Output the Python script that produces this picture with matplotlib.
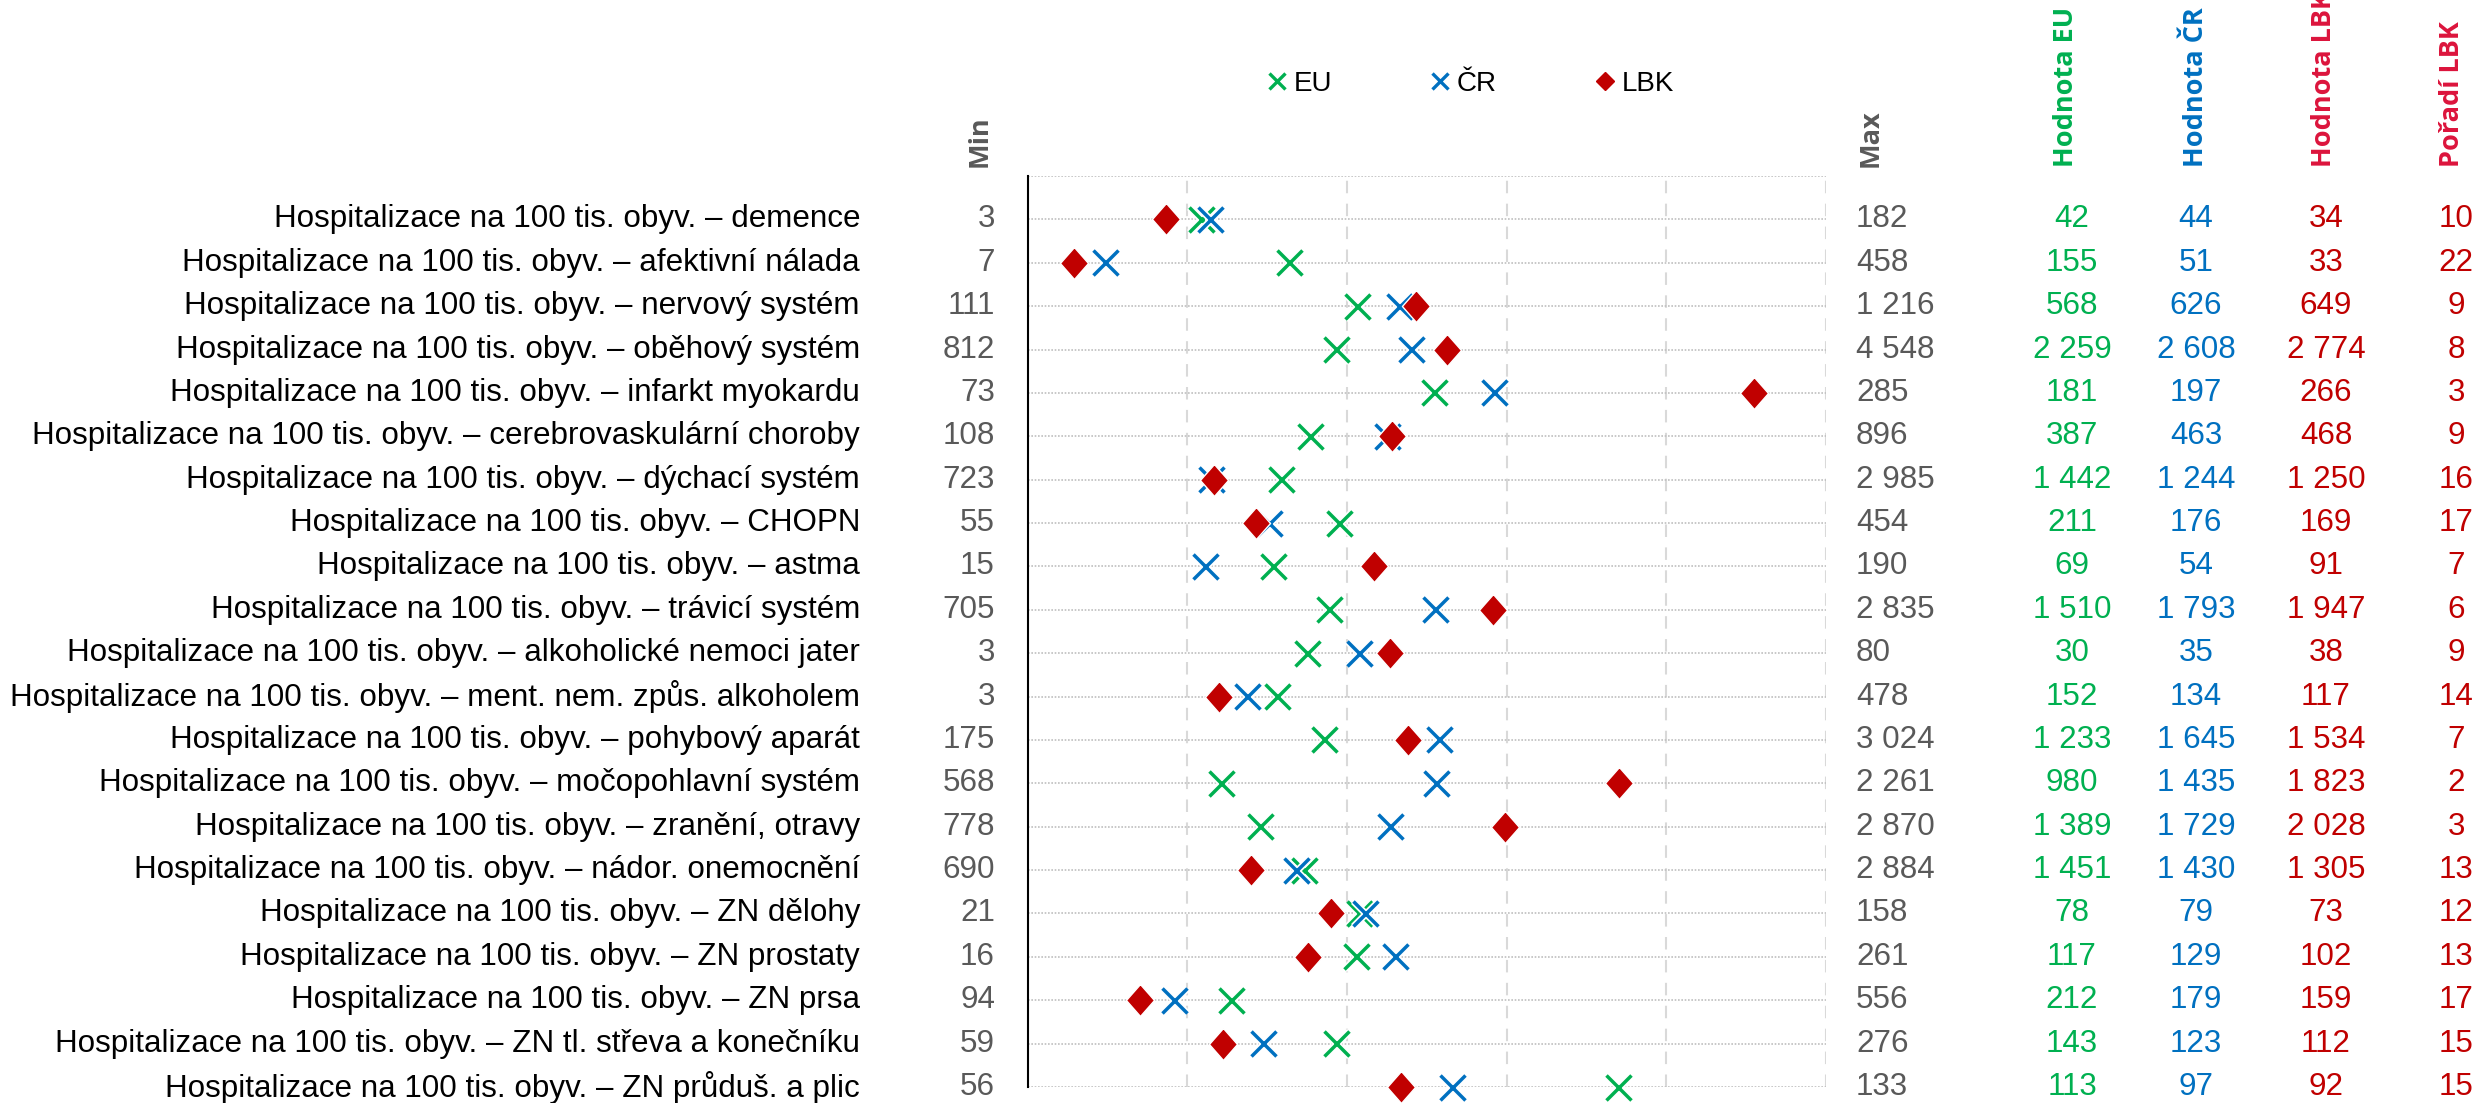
import matplotlib.pyplot as plt
from matplotlib.lines import Line2D
from matplotlib.transforms import blended_transform_factory
import matplotlib.patheffects as pe

plt.rcParams['font.family'] = ['Liberation Sans Narrow', 'Liberation Sans', 'DejaVu Sans']

labels = [
    "demence", "afektivní nálada", "nervový systém", "oběhový systém",
    "infarkt myokardu", "cerebrovaskulární choroby", "dýchací systém", "CHOPN",
    "astma", "trávicí systém", "alkoholické nemoci jater",
    "ment. nem. způs. alkoholem", "pohybový aparát", "močopohlavní systém",
    "zranění, otravy", "nádor. onemocnění", "ZN dělohy", "ZN prostaty",
    "ZN prsa", "ZN tl. střeva a konečníku", "ZN průduš. a plic",
]
prefix = "Hospitalizace na 100 tis. obyv. – "
mins = [3, 7, 111, 812, 73, 108, 723, 55, 15, 705, 3, 3, 175, 568, 778, 690, 21, 16, 94, 59, 56]
maxs = [182, 458, 1216, 4548, 285, 896, 2985, 454, 190, 2835, 80, 478, 3024, 2261, 2870, 2884, 158, 261, 556, 276, 133]
eu = [42, 155, 568, 2259, 181, 387, 1442, 211, 69, 1510, 30, 152, 1233, 980, 1389, 1451, 78, 117, 212, 143, 113]
cr = [44, 51, 626, 2608, 197, 463, 1244, 176, 54, 1793, 35, 134, 1645, 1435, 1729, 1430, 79, 129, 179, 123, 97]
lbk = [34, 33, 649, 2774, 266, 468, 1250, 169, 91, 1947, 38, 117, 1534, 1823, 2028, 1305, 73, 102, 159, 112, 92]
rank = [10, 22, 9, 8, 3, 9, 16, 17, 7, 6, 9, 14, 7, 2, 3, 13, 12, 13, 17, 15, 15]

GREEN = "#00B050"
BLUE = "#0070C0"
RED = "#C00000"
HEAD_RED = "#DC143C"
GRAY = "#595959"

W, H = 2476, 1103
fig = plt.figure(figsize=(W / 100, H / 100), dpi=100)
ax = fig.add_axes([1027.5 / W, 1 - 1087 / H, (1826 - 1027.5) / W, (1087 - 176) / H])

n = len(labels)
rows = list(range(1, n + 1))


def norm(vals):
    return [(v - a) / (b - a) for v, a, b in zip(vals, mins, maxs)]


def fmt(v):
    return f"{v:,}".replace(",", " ")


diamond = [(0, 1), (0.88, 0), (0, -1), (-0.88, 0), (0, 1)]
outline = [pe.Stroke(linewidth=5, foreground="white"), pe.Normal()]
ax.plot(norm(eu), rows, ls="none", marker="x", ms=18, mew=2.5, color=GREEN,
        path_effects=outline, zorder=3, clip_on=False)
ax.plot(norm(cr), rows, ls="none", marker="x", ms=18, mew=2.5, color=BLUE,
        path_effects=outline, zorder=4, clip_on=False)
ax.plot(norm(lbk), rows, ls="none", marker=diamond, ms=23, mew=1, color=RED,
        markeredgecolor="white", zorder=5, clip_on=False)

ax.set_xlim(0, 1)
ax.set_ylim(n, 0)
for x in [0.2, 0.4, 0.6, 0.8, 1.0]:
    ax.axvline(x, color="#D9D9D9", lw=1.5, ls=(0, (6, 5)), zorder=1)
for y in range(0, n + 1):
    ax.axhline(y, color="#BFBFBF", lw=1.2, ls=(0, (1, 1)), zorder=1)
ax.set_xticks([])
ax.set_yticks([])
for s in ["top", "right", "bottom"]:
    ax.spines[s].set_visible(False)
ax.spines["left"].set_color("black")
ax.spines["left"].set_linewidth(1.5)

tr = blended_transform_factory(fig.transFigure, ax.transData)
fs = 22.6
for i in range(n):
    y = rows[i]
    fig.text(860 / W, y, prefix + labels[i], transform=tr, ha="right", va="center", fontsize=fs, color="black")
    fig.text(995 / W, y, fmt(mins[i]), transform=tr, ha="right", va="center", fontsize=fs, color=GRAY)
    fig.text(1856 / W, y, fmt(maxs[i]), transform=tr, ha="left", va="center", fontsize=fs, color=GRAY)
    fig.text(2072 / W, y, fmt(eu[i]), transform=tr, ha="center", va="center", fontsize=fs, color=GREEN)
    fig.text(2196 / W, y, fmt(cr[i]), transform=tr, ha="center", va="center", fontsize=fs, color=BLUE)
    fig.text(2326 / W, y, fmt(lbk[i]), transform=tr, ha="center", va="center", fontsize=fs, color=RED)
    fig.text(2456 / W, y, str(rank[i]), transform=tr, ha="center", va="center", fontsize=fs, color=RED)

headers = [("Min", 980, GRAY), ("Max", 1871, GRAY), ("Hodnota EU", 2066, GREEN),
           ("Hodnota ČR", 2196, BLUE), ("Hodnota LBK", 2324, HEAD_RED), ("Pořadí LBK", 2452, HEAD_RED)]
for txt, x, c in headers:
    fig.text(x / W, 1 - 167 / H, txt, rotation=90, ha="center", va="bottom",
             fontsize=19.5, fontweight="bold", color=c, family=["Open Sans", "DejaVu Sans"])

handles = [
    Line2D([], [], ls="none", marker="x", ms=12, mew=2.4, color=GREEN),
    Line2D([], [], ls="none", marker="x", ms=12, mew=2.4, color=BLUE),
    Line2D([], [], ls="none", marker="D", ms=9, color=RED),
]
fig.legend(handles, ["EU", "ČR", "LBK"], loc="center", bbox_to_anchor=(1470 / W, 1 - 84 / H),
           ncol=3, frameon=False, fontsize=20, handlelength=0.8, handletextpad=0.2,
           columnspacing=3.5)

fig.savefig("out.png", dpi=100)
